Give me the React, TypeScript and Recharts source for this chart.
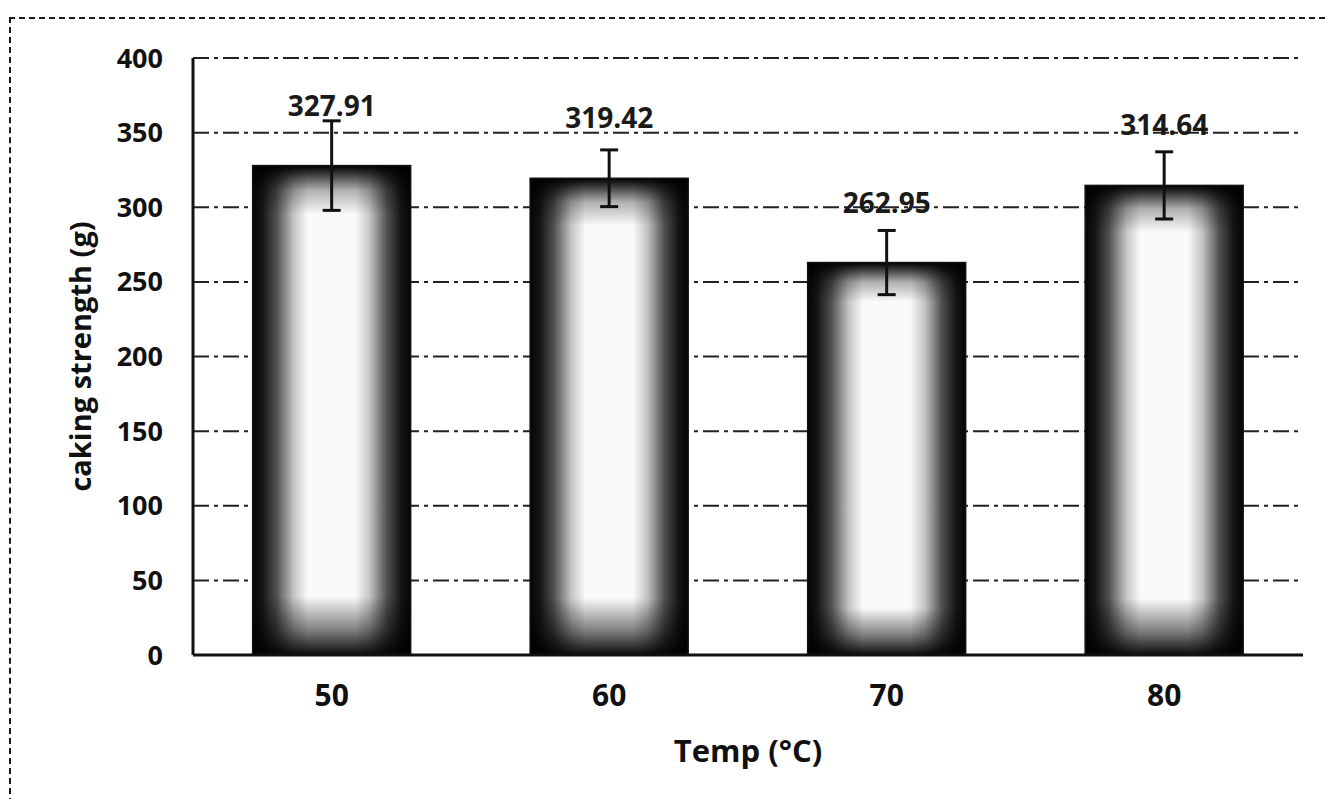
import { BarChart, Bar, XAxis, YAxis, CartesianGrid, ErrorBar, LabelList, Label } from 'recharts';

const temps = ['50', '60', '70', '80'];
const strength = [327.91, 319.42, 262.95, 314.64];
const stdError = [30, 19, 21.5, 22.5];
const yTicks = [0, 50, 100, 150, 200, 250, 300, 350, 400];

const data = temps.map((t, i) => ({ temp: t, value: strength[i], err: stdError[i] }));

const FONT = '"Open Sans", "Liberation Sans", sans-serif';

// bar with dark edges fading to a white centre, like the scanned fill
function ShadedBar(props: any) {
  const { x, y, width, height } = props;
  if (!height || height <= 0) return null;
  return (
    <g>
      <rect x={x} y={y} width={width} height={height} fill="url(#barSides)" />
      <rect x={x} y={y} width={width} height={height} fill="url(#barEnds)" />
      <rect x={x} y={y} width={width} height={height} fill="none" stroke="#111" strokeWidth={1.5} />
    </g>
  );
}

// value label placed a fixed distance above the bar top (outside end)
function ValueLabel(props: any) {
  const { x, y, width, value } = props;
  return (
    <text
      x={x + width / 2}
      y={y - 50}
      textAnchor="middle"
      fill="#1a1a1a"
      style={{ fontFamily: FONT, fontSize: 28, fontWeight: 700 }}
    >
      {Number(value).toFixed(2)}
    </text>
  );
}

export default function App() {
  return (
    <div style={{ position: 'relative', width: 1317, height: 791, background: '#fff' }}>
      <div
        style={{
          position: 'absolute',
          left: 1,
          top: 9,
          right: -10,
          bottom: -15,
          borderTop: '2px dashed #1a1a1a',
          borderLeft: '2px dashed #1a1a1a',
        }}
      />
      <BarChart
        width={1317}
        height={791}
        data={data}
        margin={{ top: 50, right: 22, left: 0, bottom: 37 }}
        barCategoryGap="21.5%"
      >
        <defs>
          <linearGradient id="barSides" x1="0" y1="0" x2="1" y2="0">
            <stop offset="0%" stopColor="#050505" />
            <stop offset="6%" stopColor="#151515" />
            <stop offset="15%" stopColor="#505050" />
            <stop offset="26%" stopColor="#c4c4c4" />
            <stop offset="35%" stopColor="#fafafa" />
            <stop offset="65%" stopColor="#fafafa" />
            <stop offset="74%" stopColor="#c4c4c4" />
            <stop offset="85%" stopColor="#505050" />
            <stop offset="94%" stopColor="#151515" />
            <stop offset="100%" stopColor="#050505" />
          </linearGradient>
          <linearGradient id="barEnds" x1="0" y1="0" x2="0" y2="1">
            <stop offset="0%" stopColor="#000" stopOpacity={1} />
            <stop offset="1.5%" stopColor="#000" stopOpacity={0.8} />
            <stop offset="5%" stopColor="#000" stopOpacity={0.3} />
            <stop offset="10%" stopColor="#000" stopOpacity={0} />
            <stop offset="88%" stopColor="#000" stopOpacity={0} />
            <stop offset="95%" stopColor="#000" stopOpacity={0.5} />
            <stop offset="100%" stopColor="#000" stopOpacity={0.95} />
          </linearGradient>
        </defs>
        <CartesianGrid vertical={false} stroke="#222" strokeWidth={2} strokeDasharray="16 5 4 5" />
        <XAxis
          dataKey="temp"
          height={107}
          axisLine={{ stroke: '#111', strokeWidth: 3 }}
          tickLine={false}
          tickSize={0}
          tickMargin={30}
          tick={{ fill: '#111', fontSize: 30, fontWeight: 700, fontFamily: FONT }}
        >
          <Label
            value="Temp (°C)"
            position="insideBottom"
            offset={0}
            style={{ fill: '#111', fontSize: 31, fontWeight: 700, fontFamily: FONT }}
          />
        </XAxis>
        <YAxis
          width={185}
          domain={[0, 400]}
          ticks={yTicks}
          interval={0}
          axisLine={{ stroke: '#111', strokeWidth: 3 }}
          tickLine={false}
          tickSize={0}
          tickMargin={30}
          tick={{ fill: '#111', fontSize: 27, fontWeight: 700, fontFamily: FONT }}
        >
          <Label
            value="caking strength (g)"
            angle={-90}
            position="center"
            dx={-20}
            style={{ fill: '#111', fontSize: 29, fontWeight: 700, fontFamily: FONT, textAnchor: 'middle' }}
          />
        </YAxis>
        <Bar dataKey="value" shape={<ShadedBar />} isAnimationActive={false}>
          <ErrorBar dataKey="err" width={9} strokeWidth={3} stroke="#111" direction="y" />
          <LabelList dataKey="value" content={<ValueLabel />} />
        </Bar>
      </BarChart>
    </div>
  );
}
